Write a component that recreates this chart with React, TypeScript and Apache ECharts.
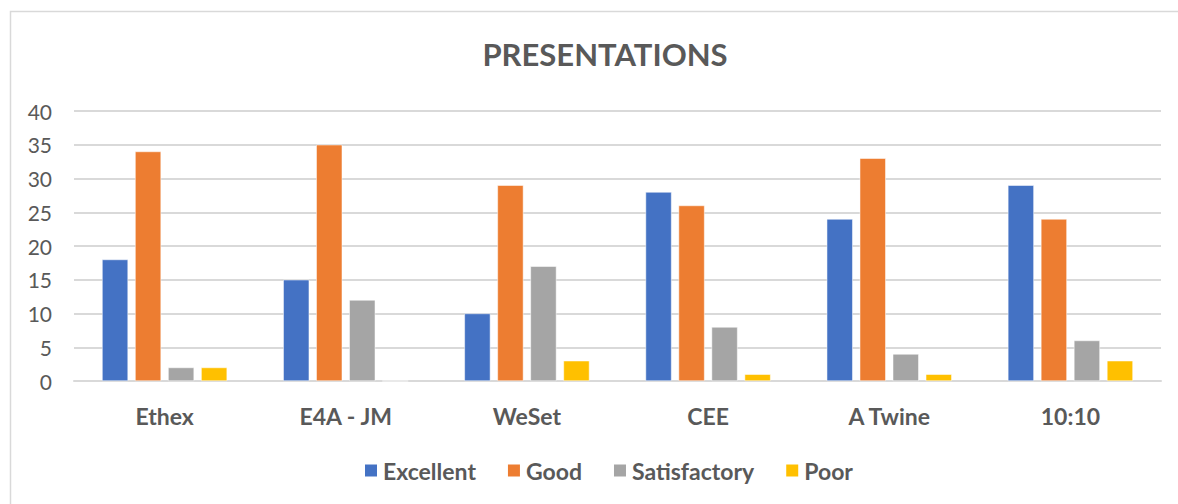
import React, { useEffect, useRef } from "react";
import * as echarts from "echarts";

const categories = ["Ethex", "E4A - JM", "WeSet", "CEE", "A Twine", "10:10"];
const excellent = [18, 15, 10, 28, 24, 29];
const good = [34, 35, 29, 26, 33, 24];
const satisfactory = [2, 12, 17, 8, 4, 6];
const poor = [2, 0, 3, 1, 1, 3];
const seriesNames = ["Excellent", "Good", "Satisfactory", "Poor"];
const colors = ["#4472C4", "#ED7D31", "#A5A5A5", "#FFC000"];

const FONT = "Lato";

export default function App() {
  const ref = useRef<HTMLDivElement>(null);
  useEffect(() => {
    if (!ref.current) return;
    const chart = echarts.init(ref.current, null, { renderer: "svg" });
    const data = [excellent, good, satisfactory, poor];
    chart.setOption({
      animation: false,
      backgroundColor: "#ffffff",
      title: {
        text: "PRESENTATIONS",
        left: 600,
        textAlign: "center",
        top: 33,
        textStyle: { fontFamily: FONT, fontWeight: "bold", fontSize: 31, color: "#595959" },
      },
      graphic: [
        {
          type: "rect",
          shape: { x: 10.5, y: 11.5, width: 1200, height: 600 },
          style: { fill: "none", stroke: "#d9d9d9", lineWidth: 1.5 },
          silent: true,
          z: -1,
        },
      ],
      legend: {
        top: 454,
        left: 358,
        itemWidth: 14,
        itemHeight: 14,
        itemGap: 30,
        icon: "rect",
        textStyle: { fontFamily: FONT, fontWeight: "bold", fontSize: 23, color: "#595959" },
        data: seriesNames,
      },
      grid: { left: 74, right: 17, top: 111, bottom: 123, containLabel: false },
      xAxis: {
        type: "category",
        data: categories,
        axisLine: { lineStyle: { color: "#d9d9d9", width: 2 } },
        axisTick: { show: false },
        axisLabel: { fontFamily: FONT, fontWeight: "bold", fontSize: 23, color: "#595959", margin: 23 },
      },
      yAxis: {
        type: "value",
        min: 0,
        max: 40,
        interval: 5,
        axisLine: { show: false },
        axisTick: { show: false },
        splitLine: { lineStyle: { color: "#d9d9d9", width: 2 } },
        axisLabel: { fontFamily: FONT, fontSize: 21, color: "#595959", margin: 22 },
      },
      series: seriesNames.map((name, i) => ({
        name,
        type: "bar",
        data: data[i],
        barWidth: 26,
        barGap: "27%",
        itemStyle: { color: colors[i], borderColor: "#ffffff", borderWidth: 0.5 },
      })),
    });
    return () => chart.dispose();
  }, []);
  return (
    <div
      ref={ref}
      style={{ position: "absolute", left: 0, top: 0, width: 1178, height: 504 }}
    />
  );
}
